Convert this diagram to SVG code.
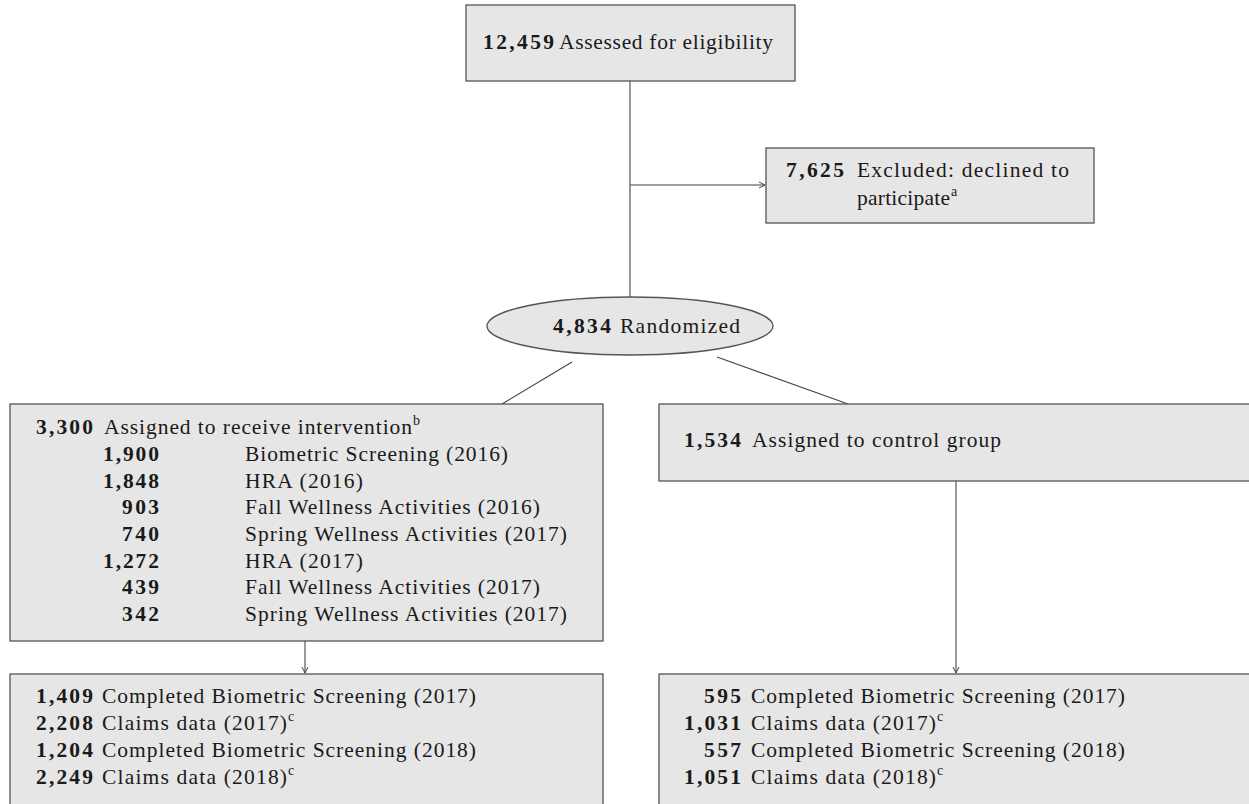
<svg xmlns="http://www.w3.org/2000/svg" width="1249" height="804" viewBox="0 0 1249 804">
<style>
.box{fill:#e6e6e6;stroke:#555;stroke-width:1.3}
.ln{fill:none;stroke:#444;stroke-width:1.1}
text{font-family:"Liberation Serif","DejaVu Serif",serif;font-size:21.5px;fill:#1a1a1a}
.n{font-weight:bold}
.e{text-anchor:end}
.s{font-size:14px}
</style>
<defs>
<marker id="ar" markerWidth="8" markerHeight="8" refX="7" refY="4" orient="auto" markerUnits="userSpaceOnUse">
<path d="M1,1 L7,4 L1,7" fill="none" stroke="#444" stroke-width="1"/>
</marker>
</defs>
<rect width="1249" height="804" fill="#fff"/>
<g id="connectors">
<line class="ln" x1="630" y1="81" x2="630" y2="297"/>
<line class="ln" x1="630" y1="185" x2="765" y2="185" marker-end="url(#ar)"/>
<line class="ln" x1="572" y1="362" x2="502" y2="404"/>
<line class="ln" x1="717" y1="357" x2="848" y2="404"/>
<line class="ln" x1="305" y1="641" x2="305" y2="673" marker-end="url(#ar)"/>
<line class="ln" x1="956" y1="481" x2="956" y2="673" marker-end="url(#ar)"/>
</g>
<g id="assessed">
<rect class="box" x="466" y="5" width="329" height="76"/>
<text class="n" x="483" y="49" textLength="71">12,459</text>
<text x="559" y="49" textLength="214">Assessed for eligibility</text>
</g>
<g id="excluded">
<rect class="box" x="766" y="148" width="328" height="75"/>
<text class="n" x="786" y="177" textLength="58">7,625</text>
<text x="857" y="177" textLength="212">Excluded: declined to</text>
<text x="857" y="205" textLength="93">participate</text>
<text class="s" x="951" y="196">a</text>
</g>
<g id="randomized">
<ellipse class="box" cx="630" cy="326" rx="143" ry="29"/>
<text class="n" x="553" y="333" textLength="58">4,834</text>
<text x="620" y="333" textLength="120">Randomized</text>
</g>
<g id="intervention">
<rect class="box" x="10" y="404" width="593" height="237"/>
<text class="n" x="36" y="434" textLength="57">3,300</text>
<text x="104" y="434" textLength="308">Assigned to receive intervention</text>
<text class="s" x="413" y="425">b</text>
<text class="n e" x="159" y="461" textLength="56">1,900</text><text x="245" y="461" textLength="263">Biometric Screening (2016)</text>
<text class="n e" x="159" y="487.5" textLength="56">1,848</text><text x="245" y="487.5" textLength="118">HRA (2016)</text>
<text class="n e" x="159" y="514" textLength="37">903</text><text x="245" y="514" textLength="295">Fall Wellness Activities (2016)</text>
<text class="n e" x="159" y="541" textLength="37">740</text><text x="245" y="541" textLength="322">Spring Wellness Activities (2017)</text>
<text class="n e" x="159" y="567.5" textLength="56">1,272</text><text x="245" y="567.5" textLength="118">HRA (2017)</text>
<text class="n e" x="159" y="594" textLength="37">439</text><text x="245" y="594" textLength="295">Fall Wellness Activities (2017)</text>
<text class="n e" x="159" y="621" textLength="37">342</text><text x="245" y="621" textLength="322">Spring Wellness Activities (2017)</text>
</g>
<g id="control">
<rect class="box" x="659" y="404" width="595" height="77"/>
<text class="n" x="684" y="447" textLength="57">1,534</text>
<text x="752" y="447" textLength="249">Assigned to control group</text>
</g>
<g id="outcome-intervention">
<rect class="box" x="10" y="674" width="593" height="140"/>
<text class="n e" x="93" y="703" textLength="57">1,409</text><text x="102" y="703" textLength="374">Completed Biometric Screening (2017)</text>
<text class="n e" x="93" y="730" textLength="57">2,208</text><text x="102" y="730" textLength="185">Claims data (2017)</text><text class="s" x="288" y="721">c</text>
<text class="n e" x="93" y="757" textLength="57">1,204</text><text x="102" y="757" textLength="374">Completed Biometric Screening (2018)</text>
<text class="n e" x="93" y="784" textLength="57">2,249</text><text x="102" y="784" textLength="185">Claims data (2018)</text><text class="s" x="288" y="775">c</text>
</g>
<g id="outcome-control">
<rect class="box" x="659" y="674" width="595" height="140"/>
<text class="n e" x="741" y="703" textLength="37">595</text><text x="751" y="703" textLength="374">Completed Biometric Screening (2017)</text>
<text class="n e" x="741" y="730" textLength="57">1,031</text><text x="751" y="730" textLength="185">Claims data (2017)</text><text class="s" x="937" y="721">c</text>
<text class="n e" x="741" y="757" textLength="37">557</text><text x="751" y="757" textLength="374">Completed Biometric Screening (2018)</text>
<text class="n e" x="741" y="784" textLength="57">1,051</text><text x="751" y="784" textLength="185">Claims data (2018)</text><text class="s" x="937" y="775">c</text>
</g>
</svg>
